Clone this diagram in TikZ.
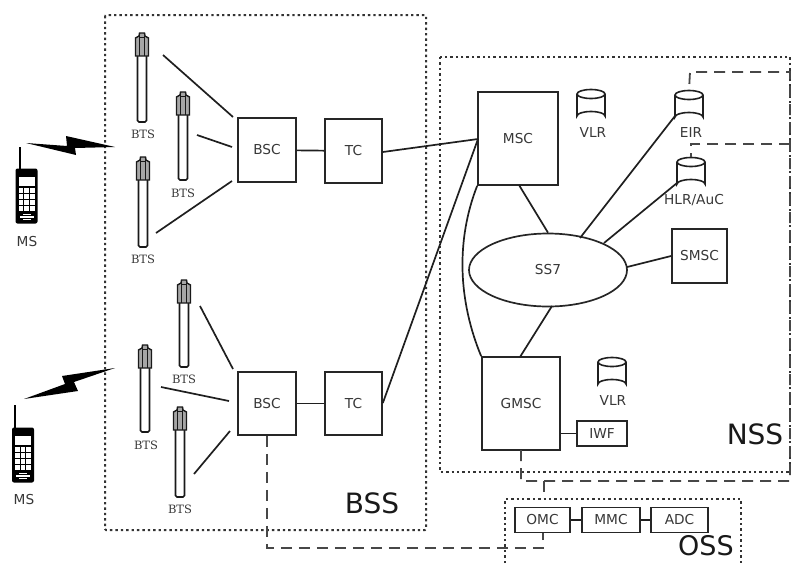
\documentclass[tikz,border=0pt]{standalone}
\usepackage{fontspec}
\usetikzlibrary{shapes.geometric}
\setmainfont{DejaVu Sans}
\newfontfamily\btsfont{DejaVu Serif}
\newcommand{\fs}[1]{\fontsize{#1}{#1}\selectfont}
\tikzset{
  box/.style={draw=black!85,line width=1.7pt,inner sep=0pt,fill=white,text=black!78,font=\fs{13.7}},
  link/.style={draw=black!88,line width=1.7pt},
  group/.style={draw=black!80,line width=2pt,dash pattern=on 2.4pt off 3pt},
  mgmt/.style={draw=black!72,line width=1.8pt,dash pattern=on 11pt off 7pt},
  lab/.style={inner sep=0pt,text=black!78,font=\fs{13.7}},
  btslab/.style={inner sep=0pt,text=black!78,font=\btsfont\fs{11.5}},
  big/.style={inner sep=0pt,text=black!90,font=\fs{28}},
}
% tower: centre x, top y, bottom y, name
\newcommand{\tower}[4]{%
  \coordinate (#4) at (#1,#3);
  \draw[black!90,line width=1.7pt,fill=white,rounded corners=1.5pt] (#1-4.5,#2+22) -- (#1-4.5,#3) -- (#1+4.5,#3) -- (#1+4.5,#2+22);
  \draw[black!90,line width=1.4pt,fill=black!35] (#1-6.5,#2+5) -- (#1-6.5,#2+23) -- (#1+6.5,#2+23) -- (#1+6.5,#2+5) -- (#1+3,#2+3) -- (#1+2.5,#2) -- (#1-2.5,#2) -- (#1-3,#2+3) -- cycle;
  \draw[black!90,line width=1.2pt] (#1-2.5,#2+3) -- (#1-2.5,#2+23) (#1+2.5,#2+3) -- (#1+2.5,#2+23) (#1-3,#2+4.5) -- (#1+3,#2+4.5);
}
% phone: left x, top y, antenna x, antenna top y, name
\newcommand{\phone}[5]{%
  \coordinate (#5) at (#1,#2);
  \draw[black,line width=2pt] (#3,#4) -- (#3,#2+1);
  \fill[black,rounded corners=2pt] (#1,#2) rectangle (#1+22,#2+55);
  \fill[white] (#1+3,#2+8) rectangle (#1+19,#2+17);
  \foreach \r in {0,1,2,3} \foreach \c in {0,1,2}
    \fill[white] (#1+3+\c*5.7,#2+19.5+\r*6) rectangle +(4.6,4.8);
  \fill[white] (#1+7,#2+45) rectangle (#1+15,#2+46.5);
  \fill[white] (#1+4,#2+47.5) rectangle (#1+18,#2+49);
  \fill[white] (#1+7,#2+50) rectangle (#1+15,#2+51.5);
}
% cylinder: centre x, top y, name
\newcommand{\cyl}[3]{%
  \coordinate (#3) at (#1,#2);
  \draw[black!88,line width=1.6pt,fill=white] (#1-14,#2+5) -- (#1-14,#2+27) arc[start angle=180,end angle=360,x radius=14,y radius=4.5] -- (#1+14,#2+5);
  \draw[black!88,line width=1.6pt,fill=white] (#1,#2+5) ellipse[x radius=14,y radius=4.5];
}
\begin{document}
\begin{tikzpicture}[x=1pt,y=-1pt]
\useasboundingbox (0,0) rectangle (792,563);
% group frames
\draw[group,rounded corners=1pt] (105,15) rectangle (426,530);
\draw[group] (440,57) rectangle (790,472);
\coordinate (ossTL) at (505,499);
\coordinate (ossTR) at (741,499);
\coordinate (ossBL) at (505,563);
\coordinate (ossBR) at (741,563);
\draw[group] (ossBL) -- (ossTL) -- (ossTR) -- (ossBR);
% towers
\tower{142}{33}{122}{t1}
\tower{183}{92}{180}{t2}
\tower{143}{157}{247}{t3}
\tower{184}{280}{367}{t4}
\tower{145}{345}{432}{t5}
\tower{180}{407}{497}{t6}
\node[btslab] (l1) at (143,134) {BTS};
\node[btslab] (l2) at (183,193) {BTS};
\node[btslab] (l3) at (143,259) {BTS};
\node[btslab] (l4) at (184,379) {BTS};
\node[btslab] (l5) at (146,445) {BTS};
\node[btslab] (l6) at (180,509) {BTS};
% phones
\phone{15.5}{168.5}{20}{147}{p1}
\phone{12}{427.5}{15}{405}{p2}
\node[lab] (ms1) at (27,242) {MS};
\node[lab] (ms2) at (24,500) {MS};
% radio links
\fill[black] (26,143) -- (67,146) -- (66,136) -- (115,147) -- (75,148) -- (76,155) -- cycle;
\fill[black] (115,368) -- (62,376) -- (65,384) -- (24,399) -- (78,391) -- (74,382) -- cycle;
% boxes
\node[box,minimum width=58pt,minimum height=64pt] (bsc1) at (267,150) {BSC};
\node[box,minimum width=57pt,minimum height=64pt] (tc1) at (353.5,151) {TC};
\node[box,minimum width=58pt,minimum height=63pt] (bsc2) at (267,403.5) {BSC};
\node[box,minimum width=57pt,minimum height=63pt] (tc2) at (353.5,403.5) {TC};
\node[box,minimum width=80pt,minimum height=93pt] (msc) at (518,138.5) {MSC};
\node[box,minimum width=78pt,minimum height=93pt] (gmsc) at (521,403.5) {GMSC};
\node[box,minimum width=55pt,minimum height=54pt] (smsc) at (699.5,256) {SMSC};
\node[box,minimum width=50pt,minimum height=25pt] (iwf) at (602,433.5) {IWF};
\node[box,minimum width=55pt,minimum height=25pt] (omc) at (542.5,520) {OMC};
\node[box,minimum width=58pt,minimum height=25pt] (mmc) at (611,520) {MMC};
\node[box,minimum width=57pt,minimum height=25pt] (adc) at (679.5,520) {ADC};
\node[box,ellipse,minimum width=158pt,minimum height=73pt] (ss7) at (548,270) {SS7};
% databases
\cyl{591}{89}{vlr1}
\cyl{689}{90}{eir}
\cyl{691}{157}{hlr}
\cyl{612}{357}{vlr2}
\node[lab] (lv1) at (593,133) {VLR};
\node[lab] (le) at (691,133) {EIR};
\node[lab] (lh) at (694,200) {HLR/AuC};
\node[lab] (lv2) at (613,400) {VLR};
% free ends of links
\coordinate (a1) at (163,55); \coordinate (a2) at (233,117);
\coordinate (b1) at (197,135); \coordinate (b2) at (232,147);
\coordinate (c1) at (156,233); \coordinate (c2) at (232,181);
\coordinate (d1) at (200,306); \coordinate (d2) at (233,369);
\coordinate (e1) at (161,387); \coordinate (e2) at (229,401);
\coordinate (f1) at (194,474); \coordinate (f2) at (230,431);
\draw[link] (a1) -- (a2) (b1) -- (b2) (c1) -- (c2) (d1) -- (d2) (e1) -- (e2) (f1) -- (f2);
\draw[link] (bsc1) -- (tc1);
\draw[link] (bsc2) -- (tc2);
\coordinate (mscw) at (478,139);
\draw[link] (tc1.east |- 0,152) -- (mscw);
\draw[link] (tc2.east |- 0,403) -- (mscw);
\draw[link] (msc.south west) .. controls (456,240) and (458,300) .. (gmsc.north west);
\draw[link] (519,185) -- (ss7.north);
\draw[link] (520,357) -- (552,306);
\coordinate (eirl) at (675,116);
\coordinate (hlrl) at (677,183);
\draw[link] (eirl) -- (580,238);
\draw[link] (hlrl) -- (604,243);
\draw[link] (smsc.west |- 0,256) -- (627,267);
\draw[link] (gmsc.east |- iwf.west) -- (iwf.west);
\draw[link] (omc) -- (mmc);
\draw[link] (mmc) -- (adc);
% management network
\coordinate (j1) at (521,481);
\coordinate (j2) at (790,481);
\coordinate (j3) at (790,72);
\coordinate (j4) at (690,72);
\coordinate (j5) at (790,144);
\coordinate (j6) at (691,144);
\coordinate (j7) at (544,481);
\coordinate (j8) at (544,499);
\coordinate (j9) at (267,548);
\coordinate (j10) at (543,548);
\draw[mgmt] (gmsc.south |- 0,450) -- (j1) -- (j2) -- (j3) -- (j4) -- (eir);
\draw[mgmt] (j5) -- (j6) -- (hlr);
\draw[mgmt] (j7) -- (j8);
\draw[mgmt] (bsc2.south) -- (j9) -- (j10) -- (omc.south -| j10);
% titles
\node[big] (bss) at (372,503) {BSS};
\node[big] (nss) at (755,434) {NSS};
\node[big,font=\fs{27}] (oss) at (706,546) {OSS};
\end{tikzpicture}
\end{document}
